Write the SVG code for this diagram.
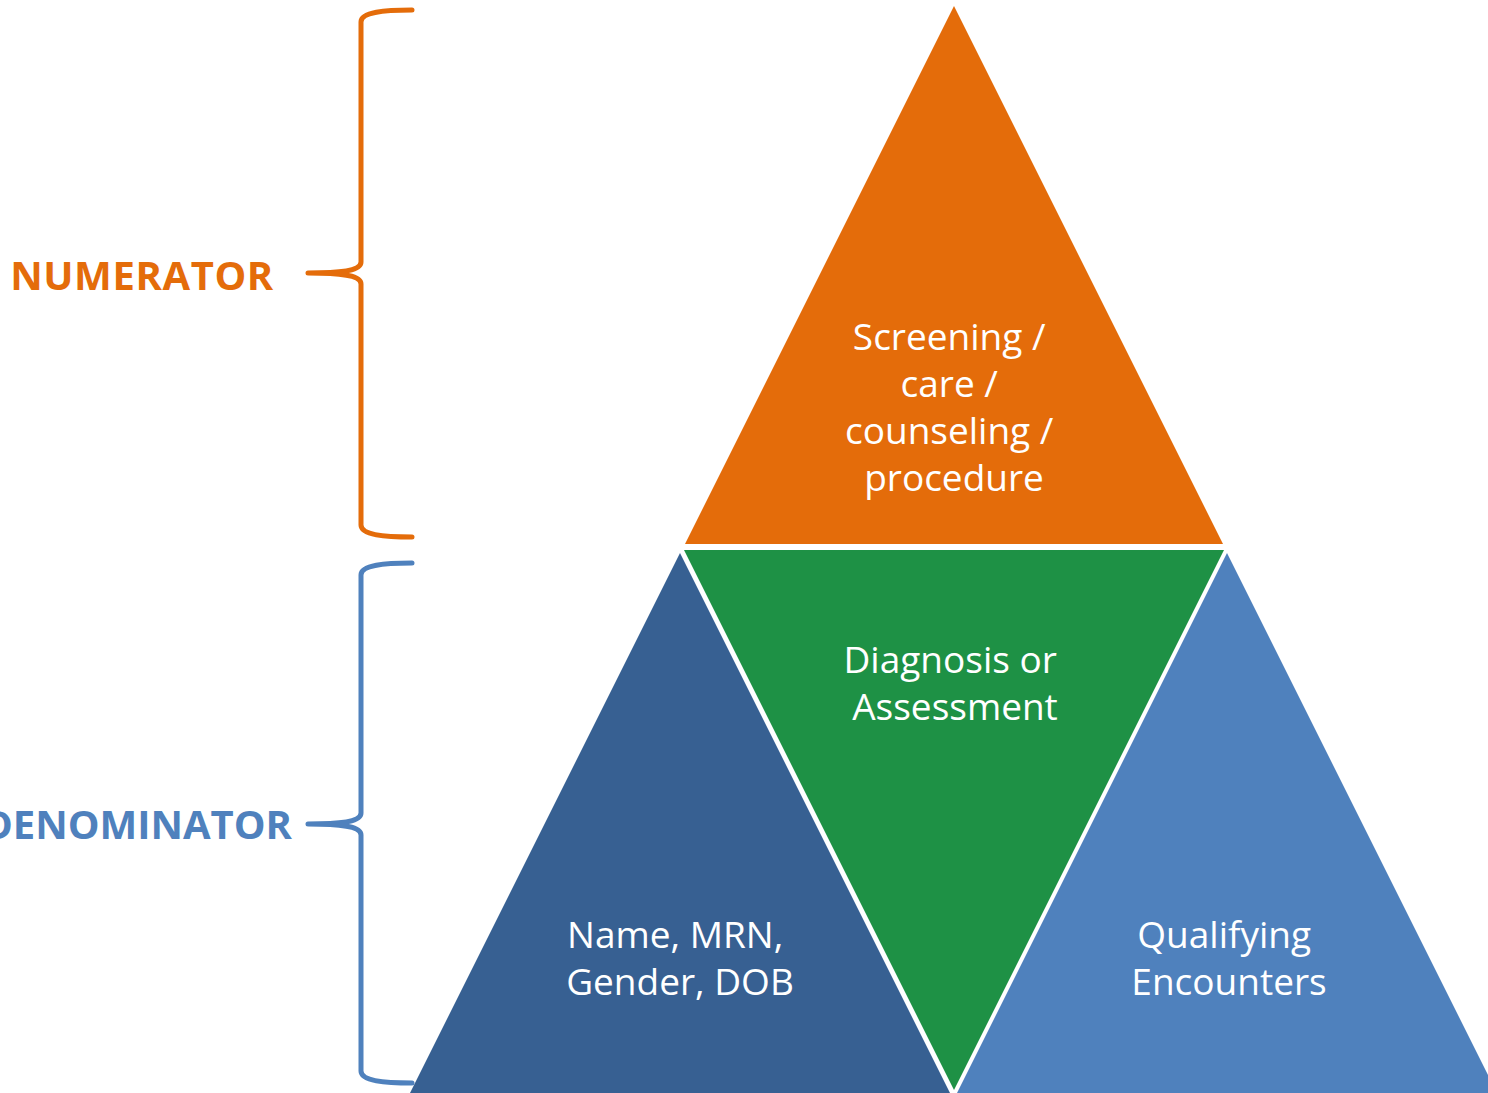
<svg xmlns="http://www.w3.org/2000/svg" width="1488" height="1093" viewBox="0 0 1488 1093">
  <style>
    .brace { fill: none; stroke-width: 5; stroke-linecap: round; stroke-linejoin: round; }
    .label { font-family: "Open Sans", "Liberation Sans", sans-serif; font-weight: bold; font-size: 40px; }
    .inner { font-family: "Open Sans", "Liberation Sans", sans-serif; font-size: 37px; fill: #FFFFFF; text-anchor: middle; }
  </style>
  <rect width="1488" height="1093" fill="#FFFFFF"/>

  <!-- pyramid sections -->
  <g id="numerator-top">
    <polygon points="954,6 1223,544 685,544" fill="#E46C0A"/>
    <text class="inner">
      <tspan x="954" y="350">Screening /</tspan>
      <tspan x="954" y="397">care /</tspan>
      <tspan x="954" y="444">counseling /</tspan>
      <tspan x="954" y="491">procedure</tspan>
    </text>
  </g>
  <g id="diagnosis">
    <polygon points="684,550 1224,550 954,1090" fill="#1E9145"/>
    <text class="inner">
      <tspan x="955" y="673">Diagnosis or</tspan>
      <tspan x="955" y="720">Assessment</tspan>
    </text>
  </g>
  <g id="demographics">
    <polygon points="680,553 950,1093 410,1093" fill="#376092"/>
    <text class="inner">
      <tspan x="680" y="948">Name, MRN,</tspan>
      <tspan x="680" y="995">Gender, DOB</tspan>
    </text>
  </g>
  <g id="encounters">
    <polygon points="1227,553 1497,1093 957,1093" fill="#4F81BD"/>
    <text class="inner">
      <tspan x="1229" y="948">Qualifying</tspan>
      <tspan x="1229" y="995">Encounters</tspan>
    </text>
  </g>

  <!-- brackets with their captions -->
  <g id="connectors">
    <path class="brace" stroke="#E46C0A" d="M412,10 C385,10 361,12 361,22 L361,262 C361,270 345,273 308,273 C345,273 361,276 361,284 L361,525 C361,535 385,537 412,537"/>
    <path class="brace" stroke="#4F81BD" d="M412,563 C385,563 361,565 361,575 L361,813 C361,821 345,824 308,824 C345,824 361,827 361,835 L361,1071 C361,1081 385,1083 412,1083"/>
  </g>
  <g id="numerator-label">
    <text class="label" x="142" y="290" fill="#E46C0A" text-anchor="middle" letter-spacing="0.6">NUMERATOR</text>
  </g>
  <g id="denominator-label">
    <text class="label" x="292" y="839" fill="#4F81BD" text-anchor="end">DENOMINATOR</text>
  </g>
</svg>
